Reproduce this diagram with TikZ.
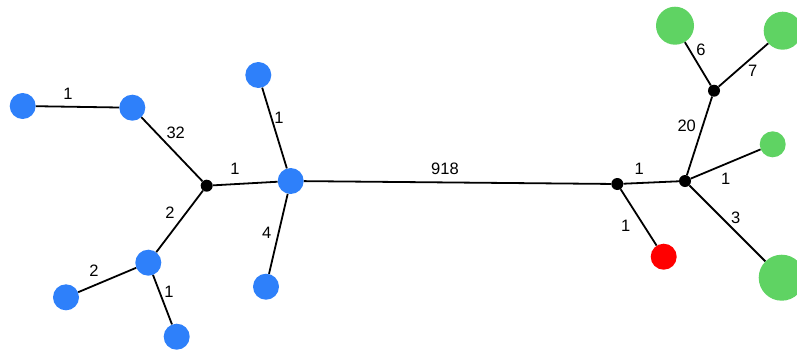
\documentclass[tikz,border=0pt]{standalone}
\usepackage{fontspec}
\setmainfont{Liberation Sans}
\usetikzlibrary{positioning}
\definecolor{leafblue}{RGB}{46,128,250}
\definecolor{leafgreen}{RGB}{95,211,99}
\definecolor{leafred}{RGB}{255,0,0}

\begin{document}
\begin{tikzpicture}[x=1pt, y=-1pt, font=\fontsize{16.5}{19}\selectfont,
  leaf/.style={circle, inner sep=0pt, minimum size=#1},
  hub/.style={circle, fill=black, inner sep=0pt, minimum size=12pt},
  link/.style={draw, line width=1.8pt},
  wt/.style={inner sep=1pt}]
  \clip (0,0) rectangle (797,354);
  % Left part: blue leaves
  \node[leaf=26pt, fill=leafblue] (a) at (22.7,106) {};
  \node[leaf=26pt, fill=leafblue] (b) at (132.3,107.7) {};
  \node[hub] (j1) at (206.7,185.7) {};
  \node[leaf=26pt, fill=leafblue] (c) at (258.3,75) {};
  \node[leaf=26pt, fill=leafblue] (d) at (290.7,181) {};
  \node[leaf=26pt, fill=leafblue] (e) at (148.3,262.7) {};
  \node[leaf=26pt, fill=leafblue] (f) at (66,297.3) {};
  \node[leaf=26pt, fill=leafblue] (g) at (176.7,336.7) {};
  \node[leaf=26pt, fill=leafblue] (h) at (266,286.7) {};
  % Right part: hubs, red and green leaves
  \node[hub] (j2) at (617.3,184) {};
  \node[hub] (j3) at (685,181) {};
  \node[hub] (j4) at (714,90.7) {};
  \node[leaf=26pt, fill=leafred] (r) at (663.7,256.7) {};
  \node[leaf=38pt, fill=leafgreen] (gtl) at (675,25.7) {};
  \node[leaf=38pt, fill=leafgreen] (gtr) at (782.7,30.7) {};
  \node[leaf=26pt, fill=leafgreen] (gs) at (772.7,144.3) {};
  \node[leaf=46pt, fill=leafgreen] (gb) at (781.7,277.7) {};

  % Edges
  \draw[link] (a) -- (b);
  \draw[link] (b) -- (j1);
  \draw[link] (j1) -- (d);
  \draw[link] (c) -- (d);
  \draw[link] (d) -- (h);
  \draw[link] (j1) -- (e);
  \draw[link] (e) -- (f);
  \draw[link] (e) -- (g);
  \draw[link] (d) -- (j2);
  \draw[link] (j2) -- (r);
  \draw[link] (j2) -- (j3);
  \draw[link] (j3) -- (j4);
  \draw[link] (j4) -- (gtl);
  \draw[link] (j4) -- (gtr);
  \draw[link] (j3) -- (gs);
  \draw[link] (j3) -- (gb);

  % Weights
  \node[wt] (wab) at (68,94) {1};
  \node[wt] (wbj) at (175.7,133) {32};
  \node[wt] (wjd) at (235,169) {1};
  \node[wt] (wcd) at (279,118) {1};
  \node[wt] (wdh) at (266.7,233) {4};
  \node[wt] (wje) at (170,213) {2};
  \node[wt] (wef) at (94,270.7) {2};
  \node[wt] (weg) at (169,292) {1};
  \node[wt] (wdj) at (445,169) {918};
  \node[wt] (wjr) at (625.7,225.7) {1};
  \node[wt] (wjj) at (639.3,169) {1};
  \node[wt] (wj34) at (686.7,125.7) {20};
  \node[wt] (wtl) at (701,50) {6};
  \node[wt] (wtr) at (752.7,71) {7};
  \node[wt] (wgs) at (725.7,179) {1};
  \node[wt] (wgb) at (735.7,218.3) {3};
\end{tikzpicture}
\end{document}
